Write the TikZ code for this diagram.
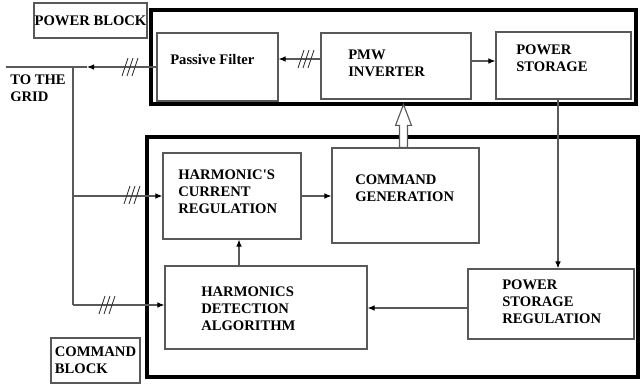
\documentclass[tikz,border=0pt]{standalone}
\usepackage{fontspec}
\setmainfont{Liberation Serif}
\usetikzlibrary{arrows.meta}

\tikzset{
  sz/.style 2 args={minimum width=#1*0.025cm, minimum height=#2*0.025cm},
  blk/.style={draw=black!65, line width=0.8pt, inner sep=0pt},
  frame/.style={draw=black, line width=2.2pt, inner sep=0pt},
  tagfont/.style={font=\bfseries\fontsize{10.4}{12}\selectfont},
  txt/.style={anchor=west, align=left, inner sep=0pt, tagfont},
  wire/.style={draw=black!65, line width=0.8pt},
  arr/.style={wire, -{Latex[length=5pt,width=4pt,color=black]}},
}

\newcommand{\slashes}[1]{%
  \foreach \d in {-5,0,5} {
    \draw[black!80, line width=0.6pt, shift={(#1)}] (\d-3,9) -- (\d+3,-9);
  }}

\begin{document}
\begin{tikzpicture}[x=0.025cm, y=-0.025cm]
    \useasboundingbox (0,0) rectangle (640,385);
    % the two blocks
    \node[frame, sz={485}{94}] (pwrblk) at (393.5,57) {};
    \node[frame, sz={491}{240}] (cmdblk) at (392.5,257) {};
    \node[blk, sz={113}{35}, tagfont] (pwrtag) at (90.5,20.5) {POWER BLOCK};
    \node[blk, sz={89}{45}, tagfont, align=left] (cmdtag) at (95.5,360.5) {COMMAND\\BLOCK};
    % power side
    \node[blk, sz={121}{68}] (filter) at (217.5,67) {};
    \node[blk, sz={150}{66}] (pmw) at (396,66) {};
    \node[blk, sz={135}{67}] (storage) at (563.5,65.5) {};
    \node[txt] (filtertxt) at (170,60) {Passive Filter};
    \node[txt] (pmwtxt) at (348,63) {PMW\\INVERTER};
    \node[txt] (storagetxt) at (516,58) {POWER\\STORAGE};
    % command side
    \node[blk, sz={138}{86}] (hcr) at (232,196) {};
    \node[blk, sz={147}{95}] (cg) at (405.5,195.5) {};
    \node[blk, sz={202}{83}] (hda) at (266,307.5) {};
    \node[blk, sz={166}{70}] (psr) at (551,304) {};
    \node[txt] (hcrtxt) at (178,192) {HARMONIC\textquotesingle S\\CURRENT\\REGULATION};
    \node[txt] (cgtxt) at (355,188) {COMMAND\\GENERATION};
    \node[txt] (hdatxt) at (201,309) {HARMONICS\\DETECTION\\ALGORITHM};
    \node[txt] (psrtxt) at (502,302) {POWER\\STORAGE\\REGULATION};
    \node[txt] (gridtxt) at (10,88) {TO THE\\GRID};
    % wires
    \coordinate (grid) at (6,67);
    \coordinate (tip) at (87,67);
    \coordinate (tap) at (73,67);
    \coordinate (bend) at (73,305);
    \draw[arr] (pmw.west |- 0,59) -- (filter.east |- 0,59);
    \draw[arr] (filter.west) -- (tip);
    \draw[wire] (tip) -- (grid);
    \draw[arr] (pmw.east |- 0,61) -- (storage.west |- 0,61);
    \draw[wire] (tap) -- (bend);
    \draw[arr] (bend) -- (hda.west |- bend);
    \draw[arr] (hcr.west -| tap) -- (hcr.west);
    \draw[arr] (hcr.east) -- (hcr.east -| cg.west);
    \draw[arr] (hda.north -| 239,0) -- (hcr.south -| 239,0);
    \draw[arr] (storage.south -| 558,0) -- (psr.north -| 558,0);
    \draw[arr] (psr.west |- 0,308) -- (hda.east |- 0,308);
    % three-phase marks
    \coordinate (h1) at (306,59);
    \coordinate (h2) at (130,67);
    \coordinate (h3) at (132,195);
    \coordinate (h4) at (107,305);
    \slashes{h1}
    \slashes{h2}
    \slashes{h3}
    \slashes{h4}
    % hollow arrow up to the inverter
    \draw[wire, fill=white] (cg.north) ++(-6,0) -- ++(0,-22) -- ++(-4,0) -- ++(8,-21)
        -- ++(8,21) -- ++(-4,0) -- ++(0,22) -- cycle;
\end{tikzpicture}
\end{document}
